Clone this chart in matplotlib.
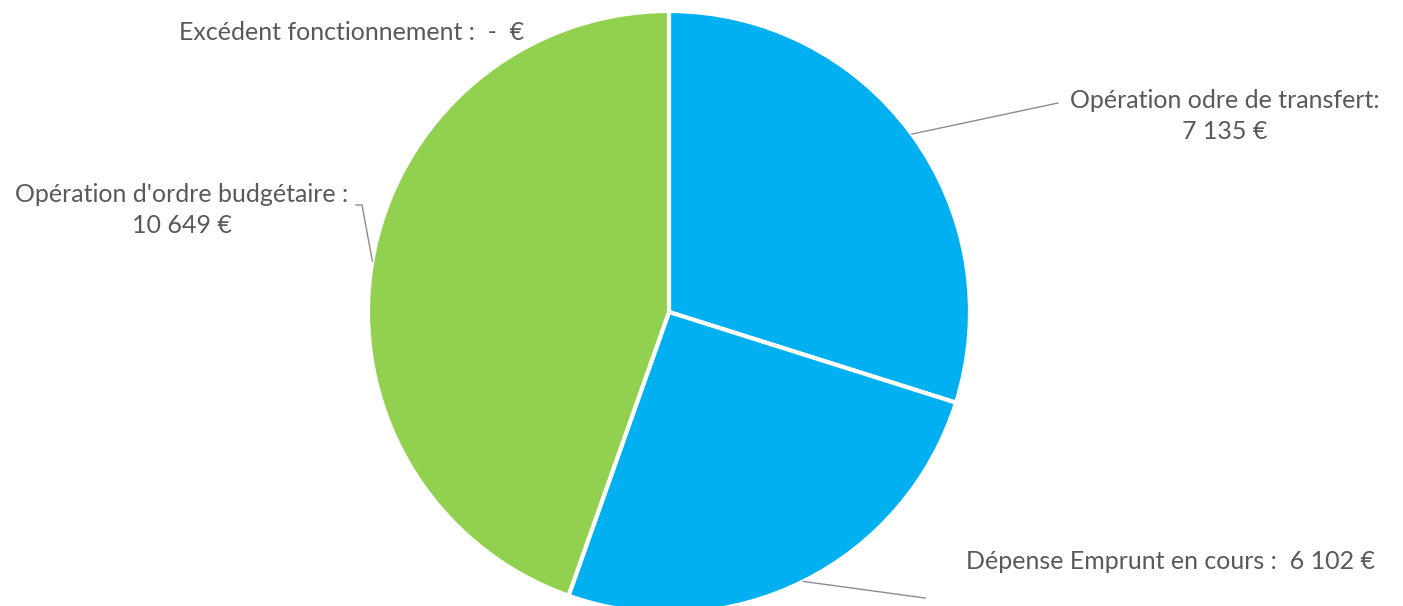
import matplotlib
matplotlib.use("Agg")
import matplotlib.pyplot as plt
import numpy as np

# slices, clockwise from the top
labels = ["Excédent fonctionnement", "Opération odre de transfert",
          "Dépense Emprunt en cours", "Opération d'ordre budgétaire"]
values = [0, 7135, 6102, 10649]
colors = ["#92D050", "#00B0F0", "#00B0F0", "#92D050"]

W, H = 1403, 606
cx, cy, R = 669, 312, 301  # pie centre / radius in pixels

plt.rcParams['font.family'] = ['Lato', 'DejaVu Sans']

fig = plt.figure(figsize=(W / 100, H / 100), dpi=100)
ax = fig.add_axes([0, 0, 1, 1])

wedges, _ = ax.pie(values, colors=colors, startangle=90, counterclock=False,
                   wedgeprops=dict(edgecolor='white', linewidth=3))

# pie() resets the limits, so set them afterwards
ax.set_xlim(-cx / R, (W - cx) / R)
ax.set_ylim(-(H - cy) / R, cy / R)
ax.set_aspect('equal')
ax.axis('off')

def px(x, y):
    return (x - cx) / R, (cy - y) / R

tc = "#595959"
fs = 18
lc = "#8c8c8c"

def mid(w):
    a = np.deg2rad((w.theta1 + w.theta2) / 2)
    return np.cos(a), np.sin(a)

def money(v):
    return f"{v:,}".replace(",", " ") + " €" if v else "-  €"

# Excédent (zero slice, no leader)
x, y = px(352, 33)
ax.text(x, y, f"{labels[0]} :  {money(values[0])}", ha='center', va='center',
        fontsize=fs, color=tc)

# transfert
mx, my = mid(wedges[1])
ex, ey = px(1058, 103)
ax.plot([mx, ex], [my, ey], color=lc, lw=1)
x, y = px(1225, 116)
ax.text(x, y, f"{labels[1]}:\n{money(values[1])}", ha='center', va='center',
        fontsize=fs, color=tc, linespacing=1.4)

# emprunt
mx, my = mid(wedges[2])
ex, ey = px(925, 598)
ax.plot([mx, ex], [my, ey], color=lc, lw=1)
x, y = px(1170, 562)
ax.text(x, y, f"{labels[2]} :  {money(values[2])}", ha='center', va='center',
        fontsize=fs, color=tc)

# budgétaire
mx, my = mid(wedges[3])
ex, ey = px(362, 205)
ex2, _ = px(356, 205)
ax.plot([mx, ex, ex2], [my, ey, ey], color=lc, lw=1)
x, y = px(182, 210)
ax.text(x, y, f"{labels[3]} :\n{money(values[3])}", ha='center', va='center',
        fontsize=fs, color=tc, linespacing=1.4)

fig.savefig("out.png", dpi=100, facecolor='white')
